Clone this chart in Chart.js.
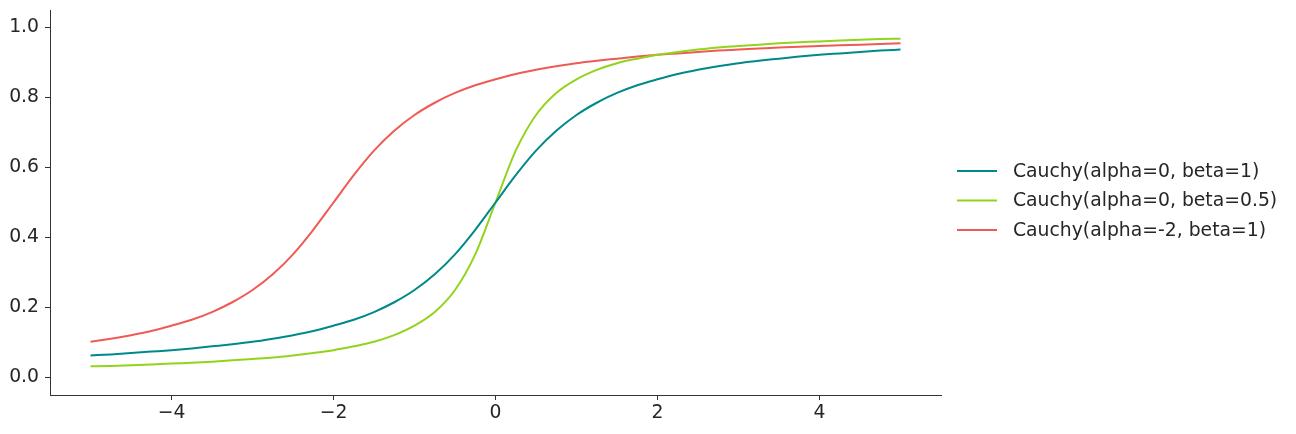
<!DOCTYPE html>
<html>
<head>
<meta charset="utf-8">
<script src="https://cdn.jsdelivr.net/npm/chart.js@4/dist/chart.umd.min.js"></script>
<style>
html,body{margin:0;padding:0;background:#fff;}
#wrap{width:1296px;height:434px;}
</style>
</head>
<body>
<div id="wrap"><canvas id="c" width="1296" height="434"></canvas></div>
<script>
const xValues = [-5,-4.75,-4.5,-4.25,-4,-3.75,-3.5,-3.25,-3,-2.75,-2.5,-2.25,-2,-1.75,-1.5,-1.25,-1,-0.75,-0.5,-0.25,0,0.25,0.5,0.75,1,1.25,1.5,1.75,2,2.25,2.5,2.75,3,3.25,3.5,3.75,4,4.25,4.5,4.75,5];
const cauchy01 = [0.063,0.066,0.070,0.074,0.078,0.083,0.089,0.095,0.102,0.111,0.121,0.133,0.148,0.165,0.187,0.215,0.250,0.295,0.352,0.422,0.500,0.578,0.648,0.705,0.750,0.785,0.813,0.835,0.852,0.867,0.879,0.889,0.898,0.905,0.911,0.917,0.922,0.926,0.930,0.934,0.937];
const cauchy005 = [0.032,0.033,0.035,0.037,0.040,0.042,0.045,0.049,0.053,0.057,0.063,0.070,0.078,0.089,0.102,0.121,0.148,0.187,0.250,0.352,0.500,0.648,0.750,0.813,0.852,0.879,0.898,0.911,0.922,0.930,0.937,0.943,0.947,0.951,0.955,0.958,0.960,0.963,0.965,0.967,0.968];
const cauchyM21 = [0.102,0.111,0.121,0.133,0.148,0.165,0.187,0.215,0.250,0.295,0.352,0.422,0.500,0.578,0.648,0.705,0.750,0.785,0.813,0.835,0.852,0.867,0.879,0.889,0.898,0.905,0.911,0.917,0.922,0.926,0.930,0.934,0.937,0.940,0.943,0.945,0.947,0.949,0.951,0.953,0.955];
const seriesLabels = ["Cauchy(alpha=0, beta=1)","Cauchy(alpha=0, beta=0.5)","Cauchy(alpha=-2, beta=1)"];
const xTicks = [-4,-2,0,2,4];
const yTicks = [0,0.2,0.4,0.6,0.8,1.0];

const colors = ["#00898a","#92d41b","#f05a55"];
const FONT = "'DejaVu Sans', sans-serif";
const FS = 18.8;
const TXT = "#262626";
const AX = "#333333";

function pts(ys){ return xValues.map((x,i)=>({x:x,y:ys[i]})); }

const legendPlugin = {
  id:'customLegend',
  afterDraw(chart){
    const ctx = chart.ctx;
    ctx.save();
    ctx.font = FS + "px " + FONT;
    ctx.textBaseline = "middle";
    ctx.textAlign = "left";
    const rows = [171, 200.5, 230];
    seriesLabels.forEach((lab,i)=>{
      ctx.strokeStyle = colors[i];
      ctx.lineWidth = 2;
      ctx.beginPath();
      ctx.moveTo(957, rows[i]);
      ctx.lineTo(997, rows[i]);
      ctx.stroke();
      ctx.fillStyle = TXT;
      ctx.fillText(lab, 1013, rows[i]+1);
    });
    ctx.restore();
  }
};

new Chart(document.getElementById('c'), {
  type:'line',
  data:{
    datasets:[
      {label:seriesLabels[0], data:pts(cauchy01), borderColor:colors[0], borderWidth:2, pointRadius:0, cubicInterpolationMode:'monotone', fill:false},
      {label:seriesLabels[1], data:pts(cauchy005), borderColor:colors[1], borderWidth:2, pointRadius:0, cubicInterpolationMode:'monotone', fill:false},
      {label:seriesLabels[2], data:pts(cauchyM21), borderColor:colors[2], borderWidth:2, pointRadius:0, cubicInterpolationMode:'monotone', fill:false}
    ]
  },
  options:{
    responsive:false,
    animation:false,
    devicePixelRatio:1,
    layout:{padding:{left:0,right:355,top:10,bottom:0}},
    plugins:{legend:{display:false}, tooltip:{enabled:false}},
    scales:{
      x:{
        type:'linear', min:-5.5, max:5.5,
        afterBuildTicks(s){ s.ticks = xTicks.map(v=>({value:v})); },
        afterFit(s){ s.height = 39; s.paddingLeft = 0; s.paddingRight = 0; },
        ticks:{font:{family:FONT,size:FS}, color:TXT, padding:2, maxRotation:0,
          callback:(v)=>String(v).replace('-','\u2212')},
        grid:{drawOnChartArea:false, drawTicks:true, tickLength:5, color:AX, tickWidth:1},
        border:{display:true, color:AX, width:1}
      },
      y:{
        type:'linear', min:-0.05, max:1.05,
        afterBuildTicks(s){ s.ticks = yTicks.map(v=>({value:v})); },
        afterFit(s){ s.width = 50; s.paddingTop = 0; s.paddingBottom = 0; },
        ticks:{font:{family:FONT,size:FS}, color:TXT, padding:6,
          callback:(v)=>Number(v).toFixed(1)},
        grid:{drawOnChartArea:false, drawTicks:true, tickLength:5, color:AX, tickWidth:1},
        border:{display:true, color:AX, width:1}
      }
    }
  },
  plugins:[legendPlugin]
});
</script>
</body>
</html>
